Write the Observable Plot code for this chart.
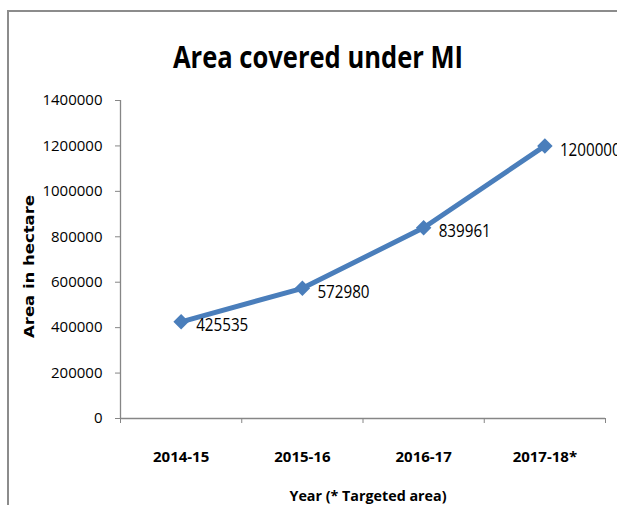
<!DOCTYPE html>
<html><head><meta charset="utf-8">
<script src="https://cdn.jsdelivr.net/npm/d3@7"></script>
<script src="https://cdn.jsdelivr.net/npm/@observablehq/plot@0.6"></script>
<style>
body{margin:0;overflow:hidden;background:#fff}
#wrap{position:relative;width:617px;height:505px;overflow:hidden}
#border{position:absolute;left:7px;top:10px;width:700px;height:600px;border-left:2px solid #8c8c8c;border-top:2px solid #8c8c8c}
#chart{position:absolute;left:0;top:0}
</style></head><body>
<div id="wrap"><div id="border"></div><div id="chart"></div></div>
<script>
const years = ["2014-15", "2015-16", "2016-17", "2017-18*"];
const area = [425535, 572980, 839961, 1200000];
const yTicks = [0, 200000, 400000, 600000, 800000, 1000000, 1200000, 1400000];
const bandEdges = [-0.5, 0.5, 1.5, 2.5, 3.5];
const title = "Area covered under MI";
const xTitle = "Year (* Targeted area)";
const yTitle = "Area in hectare";

const data = years.map((y, i) => ({i, year: y, area: area[i]}));
const axisGray = "#868686";
const blue = "#4a7ebb";

const chart = Plot.plot({
  width: 617,
  height: 505,
  marginLeft: 120,
  marginRight: 12,
  marginTop: 100,
  marginBottom: 87,
  style: {fontFamily: "'Open Sans', sans-serif", fontSize: "14.5px", color: "black", background: "transparent", overflow: "visible"},
  x: {domain: [-0.5, 3.5]},
  y: {domain: [0, 1400000]},
  marks: [
    Plot.ruleY([0], {stroke: axisGray, strokeWidth: 1.3}),
    Plot.ruleX([-0.5], {stroke: axisGray, strokeWidth: 1.3}),
    Plot.axisY({ticks: yTicks, tickSize: 5, tickPadding: 13, tickFormat: d => String(d), stroke: axisGray, fill: "black", fontSize: 15, label: null}),
    Plot.axisX({ticks: bandEdges, tickSize: 5, tickFormat: () => "", stroke: axisGray, label: null}),
    Plot.axisX({ticks: [0, 1, 2, 3], tickSize: 0, tickPadding: 33, tickFormat: i => years[i], fill: "black", fontSize: 15, fontWeight: "bold", label: null}),
    Plot.line(data, {x: "i", y: "area", stroke: blue, strokeWidth: 5}),
    Plot.dot(data, {x: "i", y: "area", symbol: "diamond2", r: 7, fill: blue, stroke: null}),
    Plot.text(data, {x: "i", y: "area", text: d => String(d.area), textAnchor: "start", dx: 15, dy: 4, fontSize: 17.5, fill: "black", className: "vlabel"}),
    Plot.text([title], {frameAnchor: "top", textAnchor: "middle", lineAnchor: "bottom", dx: -45, dy: -33, fontWeight: "bold", fontSize: 31, fill: "black"}),
    Plot.text([xTitle], {frameAnchor: "bottom", textAnchor: "middle", lineAnchor: "bottom", dx: 5, dy: 82, fontWeight: "bold", fontSize: 15, fill: "black"}),
    Plot.text([yTitle], {frameAnchor: "left", textAnchor: "middle", rotate: -90, lineAnchor: "middle", dx: -91, dy: 7, fontFamily: "'DejaVu Sans', sans-serif", fontWeight: "bold", fontSize: 13.5, fill: "black"})
  ]
});
document.getElementById("chart").appendChild(chart);

// narrow the titles and value labels to the reference's condensed lettering
const fit = {[title]: 290, [xTitle]: 157, [yTitle]: 143};
const valueSet = new Set(area.map(String));
d3.select(chart).selectAll("text").each(function() {
  const t = this.textContent;
  let len = fit[t];
  if (!len && valueSet.has(t) && this.closest(".vlabel")) len = t.length * 8.7;
  if (len) {
    this.setAttribute("textLength", len);
    this.setAttribute("lengthAdjust", "spacingAndGlyphs");
  }
});
</script>
</body></html>
